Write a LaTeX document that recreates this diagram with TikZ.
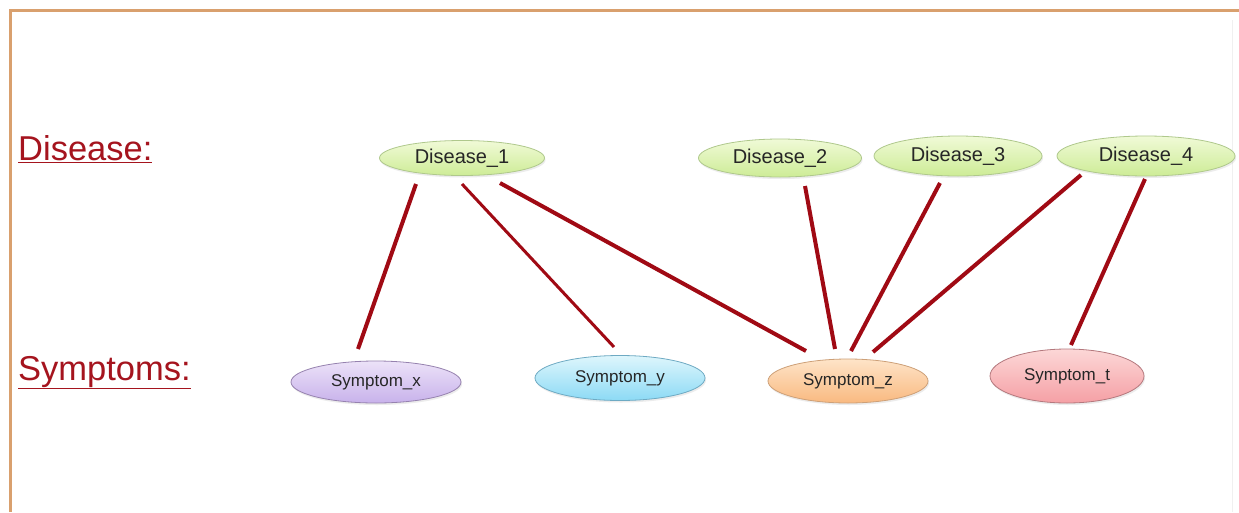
\documentclass[tikz,border=0pt]{standalone}
\usepackage{fontspec}
\setmainfont{Liberation Sans}
\usetikzlibrary{shapes.geometric,calc,shadows}
\definecolor{frameC}{RGB}{217,160,110}
\definecolor{linkC}{RGB}{160,10,20}
\definecolor{labelC}{RGB}{165,20,30}
\definecolor{disD}{RGB}{175,200,140}
\definecolor{disT}{RGB}{240,250,215}
\definecolor{disB}{RGB}{205,236,150}
\definecolor{sxD}{RGB}{150,130,175}
\definecolor{sxT}{RGB}{236,226,248}
\definecolor{sxB}{RGB}{200,178,235}
\definecolor{syD}{RGB}{110,170,195}
\definecolor{syT}{RGB}{222,246,252}
\definecolor{syB}{RGB}{140,218,245}
\definecolor{szD}{RGB}{205,160,120}
\definecolor{szT}{RGB}{254,228,200}
\definecolor{szB}{RGB}{249,185,128}
\definecolor{stD}{RGB}{180,120,125}
\definecolor{stT}{RGB}{252,215,215}
\definecolor{stB}{RGB}{245,160,165}
\tikzset{
  ell/.style={ellipse, inner sep=0pt, draw=#1, line width=0.8pt,
    drop shadow={shadow xshift=1pt, shadow yshift=-2pt, opacity=0.15}},
  dis/.style={ell=disD, top color=disT, bottom color=disB, text=black!85,
    font=\fontsize{20}{22}\selectfont},
  sym/.style={ell=#1D, top color=#1T, bottom color=#1B, text=black!85, font=\fontsize{17}{19}\selectfont},
  link/.style={draw=linkC, line width=4pt},
  thinlink/.style={draw=linkC, line width=3pt},
  lab/.style={anchor=base west, inner sep=0pt, text=labelC, font=\fontsize{34.5}{37}\selectfont}
}
\begin{document}
\begin{tikzpicture}[x=1pt,y=-1pt]
\useasboundingbox (0,0) rectangle (1239,512);
\fill[white] (0,0) rectangle (1239,512);
\draw[frameC, line width=3pt] (10.5,512) -- (10.5,10.5) -- (1239,10.5);
\draw[black!6, line width=1pt] (1232,20) -- (1232,512);

\node[lab] (ldis) at (18,160) {\underline{Disease:}};
\node[lab] (lsym) at (18,380) {\underline{Symptoms:}};

\node[dis, minimum width=165pt, minimum height=35pt] (d1) at (462,158) {Disease\_1};
\node[dis, minimum width=163pt, minimum height=38pt] (d2) at (780,158) {Disease\_2};
\node[dis, minimum width=168pt, minimum height=40pt] (d3) at (958,156) {Disease\_3};
\node[dis, minimum width=178pt, minimum height=40pt] (d4) at (1146,156) {Disease\_4};

\node[sym=sx, minimum width=170pt, minimum height=42pt] (sx) at (376,382) {Symptom\_x};
\node[sym=sy, minimum width=170pt, minimum height=45pt] (sy) at (620,378) {Symptom\_y};
\node[sym=sz, minimum width=160pt, minimum height=44pt] (sz) at (848,381) {Symptom\_z};
\node[sym=st, minimum width=154pt, minimum height=54pt] (st) at (1067,376) {Symptom\_t};

\draw[link] ($(d1)+(-46,26)$) -- ($(sx)+(-18,-33)$);
\draw[thinlink] ($(d1)+(0,26)$) -- ($(sy)+(-6,-31)$);
\draw[link] ($(d1)+(38,25)$) -- ($(sz)+(-42,-30)$);
\draw[link] ($(d2)+(25,28)$) -- ($(sz)+(-13,-32)$);
\draw[link] ($(d3)+(-18,27)$) -- ($(sz)+(3,-30)$);
\draw[link] ($(d4)+(-65,19)$) -- ($(sz)+(25,-29)$);
\draw[link] ($(d4)+(-1,23)$) -- ($(st)+(4,-31)$);
\end{tikzpicture}
\end{document}
